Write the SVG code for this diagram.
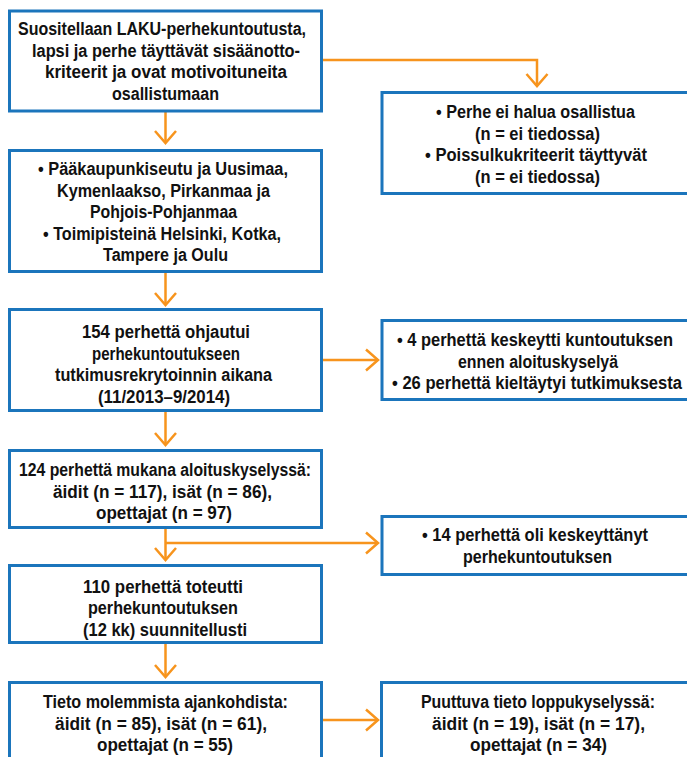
<svg xmlns="http://www.w3.org/2000/svg" width="687" height="757" viewBox="0 0 687 757">
<style>
.box{fill:#fff;stroke:#1b75bc;stroke-width:3}
.t{font-family:"Liberation Sans",Arial,sans-serif;font-weight:bold;font-size:18px;fill:#111}
.c{fill:none;stroke:#f7941d;stroke-width:2.5}
</style>
<defs>
<marker id="chev" markerUnits="userSpaceOnUse" viewBox="-14 -12 16 24" refX="0" refY="0" markerWidth="16" markerHeight="24" orient="auto" overflow="visible">
<path d="M-12,-10.5 L0,0 L-12,10.5" fill="none" stroke="#f7941d" stroke-width="2.5"/>
</marker>
</defs>
<rect width="687" height="757" fill="#fff"/>
<g id="connectors">
<path class="c" d="M322,60 H537 V86" marker-end="url(#chev)"/>
<path class="c" d="M165.5,112 V143" marker-end="url(#chev)"/>
<path class="c" d="M165.5,272 V305" marker-end="url(#chev)"/>
<path class="c" d="M322,360 H378" marker-end="url(#chev)"/>
<path class="c" d="M165.5,411 V445" marker-end="url(#chev)"/>
<path class="c" d="M165.5,528 V560" marker-end="url(#chev)"/>
<path class="c" d="M165.5,543 H378" marker-end="url(#chev)"/>
<path class="c" d="M165.5,643 V677" marker-end="url(#chev)"/>
<path class="c" d="M322,720 H378" marker-end="url(#chev)"/>
</g>
<g id="n1">
<rect class="box" x="9.5" y="11" width="312" height="100"/>
<text class="t" x="18" y="35" textLength="288" lengthAdjust="spacingAndGlyphs">Suositellaan LAKU-perhekuntoutusta,</text>
<text class="t" x="32" y="56.5" textLength="268" lengthAdjust="spacingAndGlyphs">lapsi ja perhe täyttävät sisäänotto-</text>
<text class="t" x="45" y="78" textLength="242" lengthAdjust="spacingAndGlyphs">kriteerit ja ovat motivoituneita</text>
<text class="t" x="112" y="99.5" textLength="107" lengthAdjust="spacingAndGlyphs">osallistumaan</text>
</g>
<g id="n2">
<rect class="box" x="382" y="92.5" width="308" height="101"/>
<text class="t" x="436" y="118" textLength="199" lengthAdjust="spacingAndGlyphs">• Perhe ei halua osallistua</text>
<text class="t" x="475" y="139.5" textLength="125" lengthAdjust="spacingAndGlyphs">(n = ei tiedossa)</text>
<text class="t" x="425" y="161" textLength="222" lengthAdjust="spacingAndGlyphs">• Poissulkukriteerit täyttyvät</text>
<text class="t" x="475" y="182.5" textLength="125" lengthAdjust="spacingAndGlyphs">(n = ei tiedossa)</text>
</g>
<g id="n3">
<rect class="box" x="9.5" y="150.5" width="312" height="121"/>
<text class="t" x="38" y="175" textLength="250" lengthAdjust="spacingAndGlyphs">• Pääkaupunkiseutu ja Uusimaa,</text>
<text class="t" x="57" y="196.5" textLength="213" lengthAdjust="spacingAndGlyphs">Kymenlaakso, Pirkanmaa ja</text>
<text class="t" x="90" y="218" textLength="147" lengthAdjust="spacingAndGlyphs">Pohjois-Pohjanmaa</text>
<text class="t" x="43" y="239.5" textLength="238" lengthAdjust="spacingAndGlyphs">• Toimipisteinä Helsinki, Kotka,</text>
<text class="t" x="103" y="261" textLength="125" lengthAdjust="spacingAndGlyphs">Tampere ja Oulu</text>
</g>
<g id="n4">
<rect class="box" x="9.5" y="309.5" width="312" height="101"/>
<text class="t" x="82" y="338" textLength="168" lengthAdjust="spacingAndGlyphs">154 perhettä ohjautui</text>
<text class="t" x="92" y="359.5" textLength="148" lengthAdjust="spacingAndGlyphs">perhekuntoutukseen</text>
<text class="t" x="55" y="381" textLength="217" lengthAdjust="spacingAndGlyphs">tutkimusrekrytoinnin aikana</text>
<text class="t" x="98" y="402.5" textLength="132" lengthAdjust="spacingAndGlyphs">(11/2013–9/2014)</text>
</g>
<g id="n5">
<rect class="box" x="382" y="320.5" width="308" height="79"/>
<text class="t" x="397" y="346" textLength="276" lengthAdjust="spacingAndGlyphs">• 4 perhettä keskeytti kuntoutuksen</text>
<text class="t" x="458" y="367.5" textLength="160" lengthAdjust="spacingAndGlyphs">ennen aloituskyselyä</text>
<text class="t" x="392" y="389" textLength="290" lengthAdjust="spacingAndGlyphs">• 26 perhettä kieltäytyi tutkimuksesta</text>
</g>
<g id="n6">
<rect class="box" x="9.5" y="450.5" width="312" height="77"/>
<text class="t" x="19" y="476" textLength="292" lengthAdjust="spacingAndGlyphs">124 perhettä mukana aloituskyselyssä:</text>
<text class="t" x="53" y="497.5" textLength="219" lengthAdjust="spacingAndGlyphs">äidit (n = 117), isät (n = 86),</text>
<text class="t" x="96" y="519" textLength="136" lengthAdjust="spacingAndGlyphs">opettajat (n = 97)</text>
</g>
<g id="n7">
<rect class="box" x="382" y="516.5" width="308" height="58"/>
<text class="t" x="422" y="541" textLength="226" lengthAdjust="spacingAndGlyphs">• 14 perhettä oli keskeyttänyt</text>
<text class="t" x="463" y="562.5" textLength="149" lengthAdjust="spacingAndGlyphs">perhekuntoutuksen</text>
</g>
<g id="n8">
<rect class="box" x="9.5" y="565.5" width="312" height="77"/>
<text class="t" x="83" y="593" textLength="160" lengthAdjust="spacingAndGlyphs">110 perhettä toteutti</text>
<text class="t" x="88" y="614" textLength="150" lengthAdjust="spacingAndGlyphs">perhekuntoutuksen</text>
<text class="t" x="83" y="635.5" textLength="164" lengthAdjust="spacingAndGlyphs">(12 kk) suunnitellusti</text>
</g>
<g id="n9">
<rect class="box" x="9.5" y="682.5" width="312" height="80"/>
<text class="t" x="43" y="708" textLength="245" lengthAdjust="spacingAndGlyphs">Tieto molemmista ajankohdista:</text>
<text class="t" x="55" y="729.5" textLength="212" lengthAdjust="spacingAndGlyphs">äidit (n = 85), isät (n = 61),</text>
<text class="t" x="97" y="751" textLength="136" lengthAdjust="spacingAndGlyphs">opettajat (n = 55)</text>
</g>
<g id="n10">
<rect class="box" x="381.5" y="682.5" width="308" height="80"/>
<text class="t" x="421" y="708" textLength="234" lengthAdjust="spacingAndGlyphs">Puuttuva tieto loppukyselyssä:</text>
<text class="t" x="432" y="729.5" textLength="213" lengthAdjust="spacingAndGlyphs">äidit (n = 19), isät (n = 17),</text>
<text class="t" x="470" y="751" textLength="137" lengthAdjust="spacingAndGlyphs">opettajat (n = 34)</text>
</g>
</svg>
